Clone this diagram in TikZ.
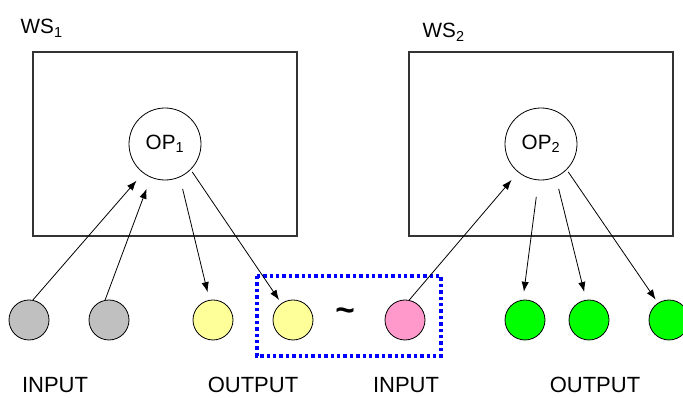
\documentclass[tikz,border=0pt]{standalone}
\usepackage{fontspec}
\setmainfont{Liberation Sans}
\usetikzlibrary{arrows.meta}

\begin{document}
\begin{tikzpicture}[x=0.75pt,y=-0.75pt,
  wsbox/.style={draw=black!80,line width=0.9pt},
  opnode/.style={circle,draw,line width=0.6pt,minimum size=54pt,inner sep=0pt,font=\fontsize{15.5}{16}\selectfont},
  ball/.style={circle,draw,line width=0.6pt,minimum size=30pt,inner sep=0pt},
  flow/.style={line width=0.6pt,-{Latex[length=7.5pt,width=5.5pt]}},
  caption/.style={font=\fontsize{16.5}{18}\selectfont,anchor=base},
  wslabel/.style={font=\fontsize{15.5}{16}\selectfont,anchor=base west}]
\useasboundingbox (0,0) rectangle (683,398);

% workspaces
\draw[wsbox] (33,52) rectangle (297,236);
\draw[wsbox] (409,52) rectangle (673,236);
\node[wslabel] (ws1) at (16,34) {WS$_{\mathrm{1}}$};
\node[wslabel] (ws2) at (418,38) {WS$_{\mathrm{2}}$};

% operators
\node[opnode] (op1) at (165,144) {OP$_{\mathrm{1}}$};
\node[opnode] (op2) at (541,144) {OP$_{\mathrm{2}}$};

% data items
\node[ball,fill={rgb,255:red,192;green,192;blue,192}] (g1) at (29,320) {};
\node[ball,fill={rgb,255:red,192;green,192;blue,192}] (g2) at (109,320) {};
\node[ball,fill={rgb,255:red,255;green,255;blue,153}] (y1) at (213,320) {};
\node[ball,fill={rgb,255:red,255;green,255;blue,153}] (y2) at (293,320) {};
\node[ball,fill={rgb,255:red,255;green,153;blue,204}] (p1) at (405,320) {};
\node[ball,fill={rgb,255:red,0;green,255;blue,0}] (e1) at (525,320) {};
\node[ball,fill={rgb,255:red,0;green,255;blue,0}] (e2) at (589,320) {};
\node[ball,fill={rgb,255:red,0;green,255;blue,0}] (e3) at (669,320) {};

% equivalence of output and input
\node[font=\fontsize{25}{25}\selectfont\bfseries] (eq) at (345,315) {\textasciitilde};
\draw[blue,line width=2.6pt,dash pattern=on 2.6pt off 2.2pt] (257,276) rectangle (441,356);

% connections
\draw[flow,shorten >=7.5pt] (g1.79) -- (op1.233);
\draw[flow,shorten >=9pt] (g2.101) -- (op1.247);
\draw[flow,shorten <=9pt,shorten >=6pt] (op1.294) -- (y1.100);
\draw[flow,shorten <=2pt,shorten >=3pt] (op1.315) -- (y2.125);
\draw[flow,shorten >=7.5pt] (p1.78) -- (op2.231);
\draw[flow,shorten <=12.5pt,shorten >=6pt] (op2.266) -- (e1.96);
\draw[flow,shorten <=9pt,shorten >=6pt] (op2.294) -- (e2.98);
\draw[flow,shorten <=2pt,shorten >=3pt] (op2.315) -- (e3.123);

% captions
\node[caption] (in1) at (55,393) {INPUT};
\node[caption] (out1) at (253,393) {OUTPUT};
\node[caption] (in2) at (406,393) {INPUT};
\node[caption] (out2) at (595,393) {OUTPUT};
\end{tikzpicture}
\end{document}
